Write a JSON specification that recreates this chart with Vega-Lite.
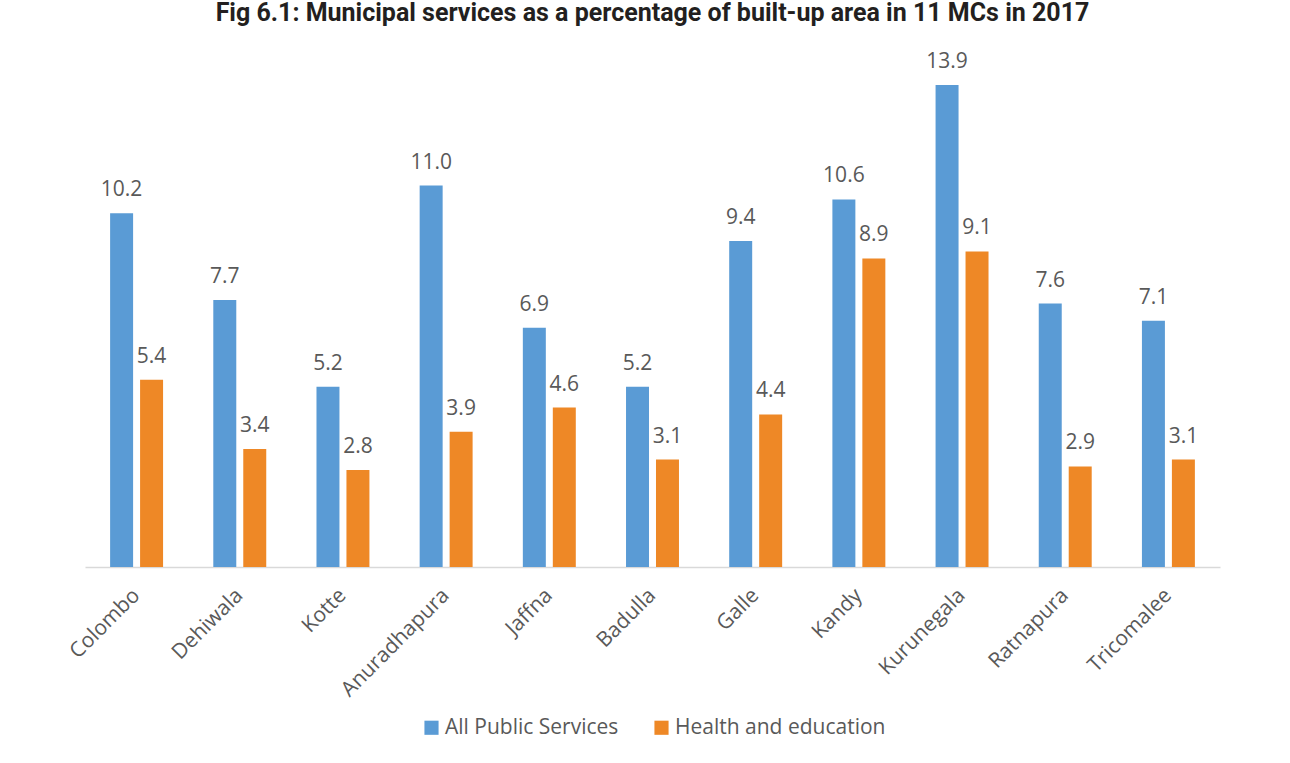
{
  "$schema": "https://vega.github.io/schema/vega-lite/v6.json",
  "width": 1135,
  "height": 527,
  "autosize": {"type": "none"},
  "padding": {"left": 85, "top": 40, "right": 70, "bottom": 196},
  "background": "white",
  "title": {
    "text": "Fig 6.1: Municipal services as a percentage of built-up area in 11 MCs in 2017",
    "anchor": "middle",
    "frame": "group",
    "font": "Roboto",
    "fontSize": 25,
    "fontWeight": "bold",
    "color": "#231F20",
    "offset": 14
  },
  "data": {
    "values": [
      {"city": "Colombo", "series": "All Public Services", "value": 10.2},
      {"city": "Colombo", "series": "Health and education", "value": 5.4},
      {"city": "Dehiwala", "series": "All Public Services", "value": 7.7},
      {"city": "Dehiwala", "series": "Health and education", "value": 3.4},
      {"city": "Kotte", "series": "All Public Services", "value": 5.2},
      {"city": "Kotte", "series": "Health and education", "value": 2.8},
      {"city": "Anuradhapura", "series": "All Public Services", "value": 11.0},
      {"city": "Anuradhapura", "series": "Health and education", "value": 3.9},
      {"city": "Jaffna", "series": "All Public Services", "value": 6.9},
      {"city": "Jaffna", "series": "Health and education", "value": 4.6},
      {"city": "Badulla", "series": "All Public Services", "value": 5.2},
      {"city": "Badulla", "series": "Health and education", "value": 3.1},
      {"city": "Galle", "series": "All Public Services", "value": 9.4},
      {"city": "Galle", "series": "Health and education", "value": 4.4},
      {"city": "Kandy", "series": "All Public Services", "value": 10.6},
      {"city": "Kandy", "series": "Health and education", "value": 8.9},
      {"city": "Kurunegala", "series": "All Public Services", "value": 13.9},
      {"city": "Kurunegala", "series": "Health and education", "value": 9.1},
      {"city": "Ratnapura", "series": "All Public Services", "value": 7.6},
      {"city": "Ratnapura", "series": "Health and education", "value": 2.9},
      {"city": "Tricomalee", "series": "All Public Services", "value": 7.1},
      {"city": "Tricomalee", "series": "Health and education", "value": 3.1}
    ]
  },
  "encoding": {
    "x": {
      "field": "city",
      "type": "nominal",
      "sort": null,
      "scale": {"paddingInner": 0.42, "paddingOuter": 0.21},
      "axis": {
        "title": null,
        "ticks": false,
        "domainColor": "#D9D9D9",
        "domainWidth": 1.5,
        "labelAngle": -45,
        "labelAlign": "right",
        "labelBaseline": "middle",
        "labelPadding": 25,
        "labelFont": "Open Sans",
        "labelFontSize": 21,
        "labelColor": "#595959"
      }
    },
    "xOffset": {
      "field": "series",
      "type": "nominal",
      "sort": ["All Public Services", "Health and education"],
      "scale": {"paddingInner": 0.233, "paddingOuter": 0.115}
    },
    "y": {
      "field": "value",
      "type": "quantitative",
      "scale": {"domain": [0, 15.2]},
      "axis": null
    }
  },
  "layer": [
    {
      "mark": {"type": "bar"},
      "encoding": {
        "color": {
          "field": "series",
          "type": "nominal",
          "scale": {
            "domain": ["All Public Services", "Health and education"],
            "range": ["#5A9BD5", "#EE8826"]
          },
          "legend": {
            "title": null,
            "orient": "none",
            "legendX": 336,
            "legendY": 677,
            "direction": "horizontal",
            "symbolType": "square",
            "symbolSize": 200,
            "symbolStrokeWidth": 0,
            "labelFont": "Open Sans",
            "labelFontSize": 21,
            "labelColor": "#595959",
            "labelLimit": 400,
            "labelOffset": 3,
            "columnPadding": 32
          }
        }
      }
    },
    {
      "mark": {
        "type": "text",
        "baseline": "alphabetic",
        "dy": -17,
        "font": "Open Sans",
        "fontSize": 21,
        "color": "#595959"
      },
      "encoding": {
        "text": {"field": "value", "type": "quantitative", "format": ".1f"}
      }
    }
  ],
  "config": {
    "view": {"stroke": null}
  }
}
